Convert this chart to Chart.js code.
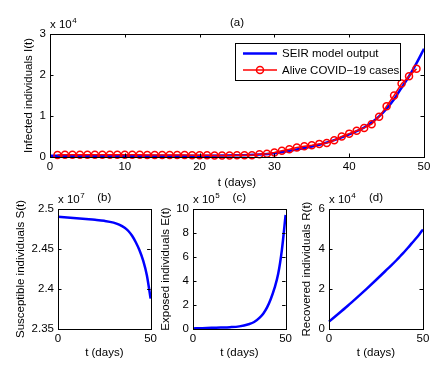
<!DOCTYPE html>
<html>
<head>
<meta charset="utf-8">
<script src="https://cdn.jsdelivr.net/npm/chart.js@4/dist/chart.umd.min.js"></script>
<style>
  body { margin: 0; background: #fff; }
  #wrap { position: relative; width: 448px; height: 367px; overflow: hidden; }
  canvas { position: absolute; }
</style>
</head>
<body>
<div id="wrap">
  <canvas id="chartA" width="448" height="192" style="left:0;top:0"></canvas>
  <canvas id="chartB" width="160" height="179" style="left:0;top:188px"></canvas>
  <canvas id="chartC" width="155" height="179" style="left:140px;top:188px"></canvas>
  <canvas id="chartD" width="163" height="179" style="left:285px;top:188px"></canvas>
</div>
<script>
// (a) infected individuals, raw counts
const aliveDays = [1, 2, 3, 4, 5, 6, 7, 8, 9, 10, 11, 12, 13, 14, 15, 16, 17, 18, 19, 20,
  21, 22, 23, 24, 25, 26, 27, 28, 29, 30, 31, 32, 33, 34, 35, 36, 37, 38, 39, 40,
  41, 42, 43, 44, 45, 46, 47, 48, 49];
const aliveCases = [500, 520, 520, 520, 520, 520, 520, 520, 520, 520, 520, 520, 500, 500, 500, 500, 480, 480, 450, 450,
  420, 380, 380, 380, 400, 420, 450, 650, 800, 1100, 1550, 1900, 2300, 2600, 2850, 3200, 3400, 4100, 5000, 5700,
  6400, 7100, 8000, 9800, 12400, 15000, 17900, 19700, 21500];
const modelDays = [0, 5, 10, 15, 20, 25, 28, 30, 32, 34, 36, 38, 40, 41, 42, 43, 44, 45, 46, 47, 48, 49, 50];
const modelInfected = [300, 300, 300, 300, 320, 400, 600, 900, 1500, 2200, 3000, 4100, 5500, 6300, 7200, 8400, 9900, 11800, 14100, 16900, 19700, 22900, 26400];

// (b)-(d) model compartments, in units of the axis multiplier
const seirDays = [0, 5, 10, 15, 20, 25, 30, 33, 36, 38, 40, 42, 44, 46, 48, 50];
const susceptible = [2.4904, 2.4895, 2.4885, 2.4875, 2.4865, 2.4852, 2.4830, 2.4805, 2.4765, 2.4725, 2.4665, 2.4585, 2.4485, 2.4355, 2.4170, 2.3880]; // x 10^7
const exposed = [0.05, 0.07, 0.1, 0.12, 0.15, 0.22, 0.4, 0.58, 0.95, 1.3, 1.8, 2.5, 3.4, 4.6, 6.6, 9.5]; // x 10^5
const recovered = [0.37, 0.76, 1.16, 1.58, 2.01, 2.45, 2.9, 3.17, 3.45, 3.65, 3.85, 4.06, 4.28, 4.5, 4.73, 4.98]; // x 10^4

const FONT = '"Liberation Sans", Arial, sans-serif';
const FS = 11.5;
const TICK = 3.5;
Chart.defaults.font.family = FONT;
Chart.defaults.font.size = FS;
Chart.defaults.color = '#000';

function pts(xs, ys) {
  return xs.map((x, i) => ({ x: x, y: ys[i] }));
}

// MATLAB-like box, inward ticks, exponent label, panel title and legend
const matlabFrame = {
  id: 'matlabFrame',
  afterDraw(chart, args, opts) {
    const ctx = chart.ctx;
    const ca = chart.chartArea;
    const xs = chart.scales.x, ys = chart.scales.y;
    ctx.save();
    ctx.strokeStyle = '#000';
    ctx.lineWidth = 1;
    ctx.beginPath();
    xs.ticks.forEach(t => {
      const px = Math.round(xs.getPixelForValue(t.value)) + 0.5;
      ctx.moveTo(px, ca.bottom); ctx.lineTo(px, ca.bottom - TICK);
      ctx.moveTo(px, ca.top); ctx.lineTo(px, ca.top + TICK);
    });
    ys.ticks.forEach(t => {
      const py = Math.round(ys.getPixelForValue(t.value)) + 0.5;
      ctx.moveTo(ca.left, py); ctx.lineTo(ca.left + TICK, py);
      ctx.moveTo(ca.right, py); ctx.lineTo(ca.right - TICK, py);
    });
    ctx.stroke();
    ctx.strokeRect(Math.round(ca.left) + 0.5, Math.round(ca.top) + 0.5,
      Math.round(ca.right - ca.left), Math.round(ca.bottom - ca.top));

    ctx.fillStyle = '#000';
    ctx.textBaseline = 'alphabetic';
    // exponent label
    ctx.textAlign = 'left';
    ctx.font = FS + 'px ' + FONT;
    ctx.fillText('x 10', ca.left, ca.top - 6);
    const w = ctx.measureText('x 10').width;
    ctx.font = '8px ' + FONT;
    ctx.fillText(opts.exponent, ca.left + w + 0.5, ca.top - 11);
    // panel title
    ctx.font = FS + 'px ' + FONT;
    ctx.textAlign = 'center';
    ctx.fillText(opts.title, (ca.left + ca.right) / 2, ca.top - 8.5);

    if (opts.legend) {
      const x0 = ca.left + 185, y0 = ca.top + 9, bw = 165, bh = 37;
      ctx.fillStyle = '#fff';
      ctx.fillRect(x0, y0, bw, bh);
      ctx.strokeRect(x0 + 0.5, y0 + 0.5, bw, bh);
      const rows = chart.data.datasets.slice().sort((a, b) => a.legendRank - b.legendRank);
      rows.forEach((ds, i) => {
        const y = y0 + 10.5 + i * 16.5;
        ctx.strokeStyle = ds.borderColor;
        ctx.lineWidth = ds.borderWidth;
        ctx.beginPath();
        ctx.moveTo(x0 + 8, y); ctx.lineTo(x0 + 42, y);
        ctx.stroke();
        if (ds.pointRadius > 0) {
          ctx.lineWidth = ds.pointBorderWidth;
          ctx.beginPath();
          ctx.arc(x0 + 25, y, ds.pointRadius, 0, Math.PI * 2);
          ctx.stroke();
        }
        ctx.fillStyle = '#000';
        ctx.textAlign = 'left';
        ctx.textBaseline = 'middle';
        ctx.fillText(ds.label, x0 + 47, y + 0.5);
      });
    }
    ctx.restore();
  }
};

function axes(o) {
  return {
    x: {
      type: 'linear', min: 0, max: 50,
      ticks: { stepSize: o.xStep, padding: 3, maxRotation: 0, autoSkip: false },
      grid: { display: false, drawTicks: false },
      border: { display: false },
      title: { display: true, text: 't (days)', padding: { top: 0, bottom: o.xTitlePad } },
      afterFit: s => { s.height = o.xHeight; }
    },
    y: {
      type: 'linear', min: o.yMin, max: o.yMax,
      ticks: { stepSize: o.yStep, padding: 4, callback: v => String(parseFloat(v.toFixed(2))) },
      grid: { display: false, drawTicks: false },
      border: { display: false },
      title: { display: true, text: o.yTitle, padding: { top: o.yTitlePad, bottom: 0 } },
      afterFit: s => { s.width = o.yWidth; }
    }
  };
}

function blueLine(label, data, order) {
  return {
    label: label, data: data, order: order, legendRank: 0,
    borderColor: '#0000ff', borderWidth: 2.5, pointRadius: 0,
    cubicInterpolationMode: 'monotone', clip: false
  };
}

new Chart(document.getElementById('chartA'), {
  type: 'line',
  data: {
    datasets: [
      blueLine('SEIR model output', pts(modelDays, modelInfected), 1),
      {
        label: 'Alive COVID\u221219 cases', data: pts(aliveDays, aliveCases), order: 0, legendRank: 1,
        borderColor: '#ff0000', borderWidth: 1.5, backgroundColor: 'rgba(0,0,0,0)',
        pointRadius: 3.5, pointBorderWidth: 1.5, pointBorderColor: '#ff0000',
        pointBackgroundColor: 'rgba(0,0,0,0)', clip: false
      }
    ]
  },
  options: {
    responsive: false, animation: false, devicePixelRatio: 1,
    layout: { padding: { left: 0, top: 34, right: 24, bottom: 0 } },
    plugins: { legend: { display: false }, tooltip: { enabled: false },
      matlabFrame: { title: '(a)', exponent: '4', legend: true } },
    scales: axes({ xStep: 10, xTitlePad: 2, xHeight: 35, yMin: 0, yMax: 30000, yStep: 10000,
      yTitle: 'Infected individuals I(t)', yTitlePad: 22, yWidth: 50 })
  },
  plugins: [matlabFrame]
});
// y tick labels of (a) are shown in units of 10^4
Chart.getChart('chartA').options.scales.y.ticks.callback = v => String(v / 10000);
Chart.getChart('chartA').update();

const lower = [
  { id: 'chartB', title: '(b)', exp: '7', data: susceptible, yMin: 2.35, yMax: 2.5, yStep: 0.05,
    yTitle: 'Susceptible individuals S(t)', yTitlePad: 13.5, yWidth: 58, right: 8 },
  { id: 'chartC', title: '(c)', exp: '5', data: exposed, yMin: 0, yMax: 10, yStep: 2,
    yTitle: 'Exposed individuals E(t)', yTitlePad: 19, yWidth: 53, right: 8 },
  { id: 'chartD', title: '(d)', exp: '4', data: recovered, yMin: 0, yMax: 6, yStep: 2,
    yTitle: 'Recovered individuals R(t)', yTitlePad: 15, yWidth: 44, right: 25 }
];

lower.forEach(p => {
  new Chart(document.getElementById(p.id), {
    type: 'line',
    data: { datasets: [blueLine(p.yTitle, pts(seirDays, p.data), 0)] },
    options: {
      responsive: false, animation: false, devicePixelRatio: 1,
      layout: { padding: { left: 0, top: 21, right: p.right, bottom: 0 } },
      plugins: { legend: { display: false }, tooltip: { enabled: false },
        matlabFrame: { title: p.title, exponent: p.exp, legend: false } },
      scales: axes({ xStep: 50, xTitlePad: 7, xHeight: 38, yMin: p.yMin, yMax: p.yMax, yStep: p.yStep,
        yTitle: p.yTitle, yTitlePad: p.yTitlePad, yWidth: p.yWidth })
    },
    plugins: [matlabFrame]
  });
});
</script>
</body>
</html>
